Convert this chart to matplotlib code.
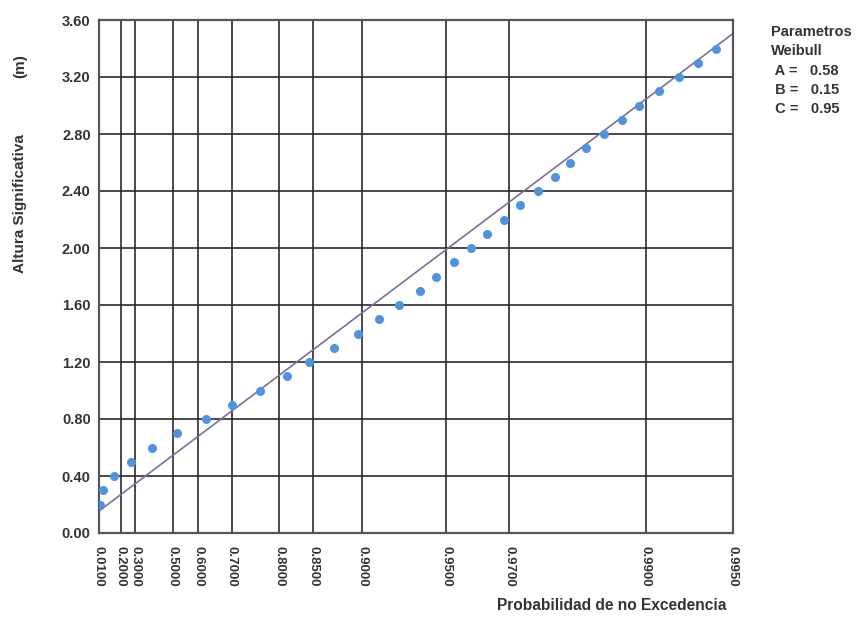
import matplotlib.pyplot as plt
import numpy as np

# Parametros Weibull
A = 0.58
B = 0.15
C = 0.95

# ticks de probabilidad de no excedencia
prob_ticks = [0.01, 0.2, 0.3, 0.5, 0.6, 0.7, 0.8, 0.85, 0.9, 0.95, 0.97, 0.99, 0.995]
h_ticks = [0.0, 0.4, 0.8, 1.2, 1.6, 2.0, 2.4, 2.8, 3.2, 3.6]

# datos observados (altura significativa vs probabilidad)
alturas = [0.2, 0.3, 0.4, 0.5, 0.6, 0.7, 0.8, 0.9, 1.0, 1.1, 1.2, 1.3, 1.4, 1.5,
           1.6, 1.7, 1.8, 1.9, 2.0, 2.1, 2.2, 2.3, 2.4, 2.5, 2.6, 2.7, 2.8, 2.9,
           3.0, 3.1, 3.2, 3.3, 3.4]
prob = [0.0206, 0.0476, 0.1497, 0.2707, 0.4006, 0.5200, 0.6254, 0.7022, 0.7649,
        0.8124, 0.8445, 0.8731, 0.8961, 0.9127, 0.9260, 0.9381, 0.9457, 0.9528,
        0.9589, 0.9641, 0.9686, 0.9726, 0.9762, 0.9792, 0.9817, 0.9838, 0.9860,
        0.9879, 0.9894, 0.9910, 0.9923, 0.9934, 0.9943]


def weibull_var(p):
    # variable reducida de Weibull
    return (-np.log(1 - np.asarray(p))) ** (1.0 / C)


fig = plt.figure(figsize=(8.6, 6.17), dpi=100)
ax = fig.add_axes([99/860, 1 - 533/617, (733-99)/860, (533-20)/617])

font = dict(family='Liberation Sans', weight='bold', color='#333333')

xt = weibull_var(prob_ticks)
for x in xt:
    ax.axvline(x, color='#2a2a2a', lw=1.2, zorder=1)
for h in h_ticks:
    ax.axhline(h, color='#2a2a2a', lw=1.2, zorder=1)

# recta de ajuste H = B + A*y
xl = np.array([xt[0], xt[-1]])
ax.plot(xl, B + A * xl, color='#7a6e9c', lw=1.2, zorder=2)

ax.plot(weibull_var(prob), alturas, 'o', color='#4d93e0', ms=6.5, mec='none', zorder=3)

ax.set_xlim(xt[0], xt[-1])
ax.set_ylim(0, 3.6)
ax.set_xticks(xt)
ax.set_xticklabels(['%.4f' % p for p in prob_ticks], rotation=270, fontsize=9.5, **font)
ax.set_yticks(h_ticks)
ax.set_yticklabels(['%.2f' % h for h in h_ticks], fontsize=10.5, **font)
ax.tick_params(axis='y', length=0, pad=6)
ax.tick_params(axis='x', length=0, pad=9)
for s in ax.spines.values():
    s.set_color('#555555')
    s.set_linewidth(1.6)

fig.text(20/860, 1 - 66/617, '(m)', rotation=90, ha='center', va='center', fontsize=11, **font)
fig.text(20/860, 1 - 204/617, 'Altura Significativa', rotation=90, ha='center', va='center',
         fontsize=11, **font)
fig.text(612/860, 1 - 606/617, 'Probabilidad de no Excedencia', ha='center', va='center',
         fontsize=11.2, **font)
fig.text(771/860, 1 - 25/617, 'Parametros\nWeibull\n A =   %.2f\n B =   %.2f\n C =   %.2f' % (A, B, C),
         ha='left', va='top', fontsize=10.5, linespacing=1.48, **font)

fig.savefig('out.png', dpi=100)
